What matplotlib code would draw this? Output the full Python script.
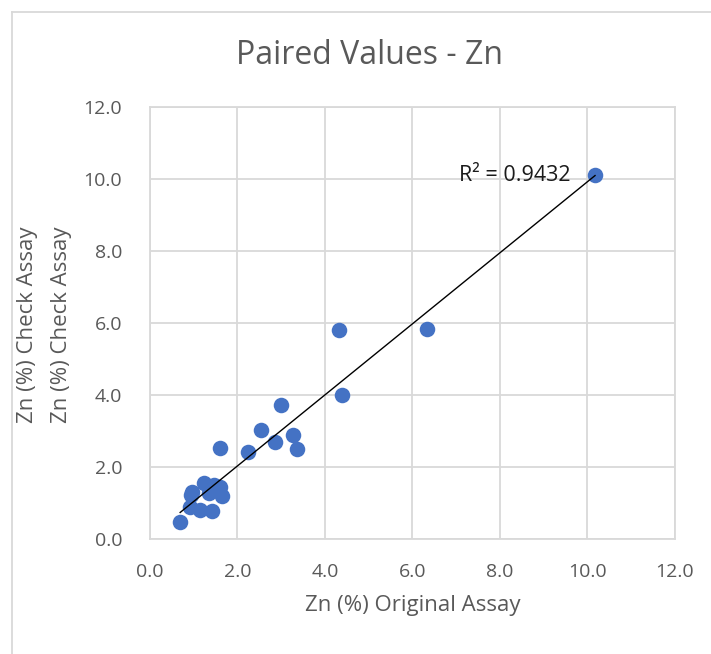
import numpy as np
from matplotlib import pyplot as plt
from matplotlib.lines import Line2D

plt.rcParams['font.family'] = ['Open Sans', 'DejaVu Sans']

# paired assays
orig = [10.18, 6.34, 4.33, 4.40, 3.00, 2.55, 3.28, 2.85, 3.37, 1.59, 2.25,
        1.23, 0.96, 1.61, 1.46, 1.65, 0.94, 0.92, 1.14, 1.42, 0.69, 1.34]
check = [10.11, 5.83, 5.81, 4.00, 3.72, 3.03, 2.89, 2.69, 2.50, 2.53, 2.42,
         1.55, 1.31, 1.44, 1.50, 1.20, 1.22, 0.88, 0.81, 0.78, 0.46, 1.27]
ticks = [0, 2, 4, 6, 8, 10, 12]
r2_label = "R² = 0.9432"

txt = '#595959'
grid = '#D9D9D9'

fig = plt.figure(figsize=(7.11, 6.54), dpi=100)
ax = fig.add_axes([150/711, 1-539/654, (674.6-150)/711, (539-107)/654])

ax.scatter(orig, check, s=125, color='#4472C4', zorder=3, linewidths=0)

# linear trendline over the data range
k, b = np.polyfit(orig, check, 1)
xs = np.array([min(orig), max(orig)])
ax.plot(xs, k*xs + b, color='black', lw=1, zorder=4)
ax.text(9.62, 10.11, r2_label, fontsize=15.5, color='#1a1a1a', ha='right', va='center', zorder=5)

ax.set_xlim(0, 12)
ax.set_ylim(0, 12)
ax.set_xticks(ticks)
ax.set_yticks(ticks)
ax.set_xticklabels([f"{t:.1f}" for t in ticks])
ax.set_yticklabels([f"{t:.1f}" for t in ticks])
ax.tick_params(length=0, labelsize=14, colors=txt)
ax.tick_params(axis='y', pad=20)
ax.tick_params(axis='x', pad=17)
ax.grid(True, color=grid, lw=1.3)
ax.set_axisbelow(True)
for s in ax.spines.values():
    s.set_color(grid)
    s.set_linewidth(1.3)

ax.set_xlabel("Zn (%) Original Assay", fontsize=16, color=txt, labelpad=10)
fig.text(28/711, 1-325/654, "Zn (%) Check Assay", rotation=90, fontsize=16, color=txt, ha='center', va='center')
fig.text(62/711, 1-325/654, "Zn (%) Check Assay", rotation=90, fontsize=16, color=txt, ha='center', va='center')

fig.text(369/711, 1-55/654, "Paired Values - Zn", fontsize=23, color=txt, ha='center', va='center')

# chart area border
fig.add_artist(Line2D([12/711, 12/711], [0, 1-12/654], color=grid, lw=1.3))
fig.add_artist(Line2D([12/711, 1], [1-12/654, 1-12/654], color=grid, lw=1.3))

fig.savefig('out.png', dpi=100)
